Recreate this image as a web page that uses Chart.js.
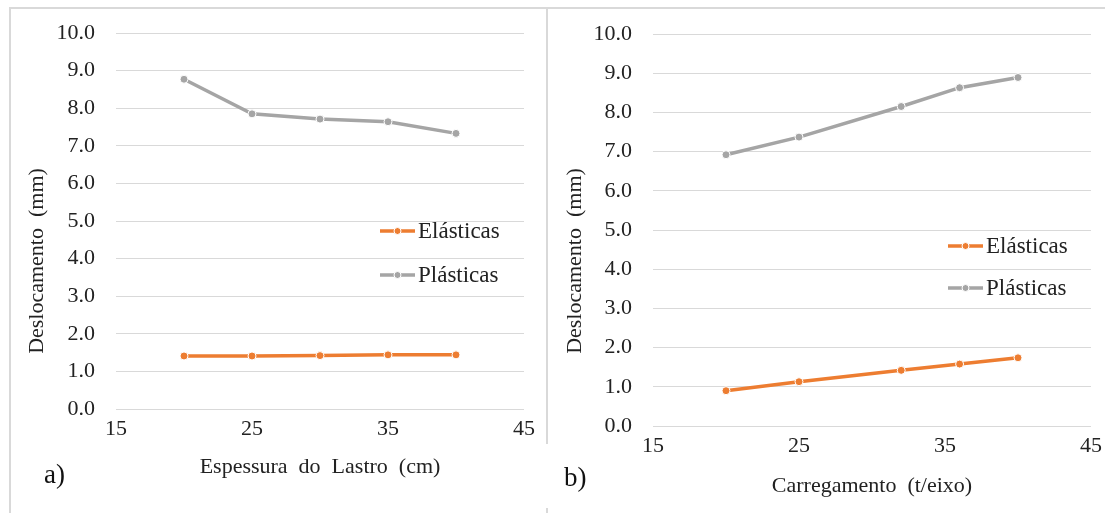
<!DOCTYPE html>
<html>
<head>
<meta charset="utf-8">
<script src="https://cdn.jsdelivr.net/npm/chart.js@4.4.1/dist/chart.umd.min.js"></script>
<style>
  body { margin: 0; background: #fff; width: 1105px; height: 513px; overflow: hidden; position: relative; }
  .box { position: absolute; }
  .line { position: absolute; background: #d9d9d9; }
  .tag { position: absolute; font-family: "Liberation Serif", serif; font-size: 27px; color: #111; }
</style>
</head>
<body>
<div class="line" style="left:9px; top:7px; width:1096px; height:2px;"></div>
<div class="line" style="left:9px; top:7px; width:2px; height:506px;"></div>
<div class="line" style="left:546px; top:7px; width:2px; height:437px;"></div>
<div class="line" style="left:546px; top:508px; width:2px; height:5px;"></div>

<div class="box" style="left:11px; top:9px; width:535px; height:504px;"><canvas id="chartA"></canvas></div>
<div class="box" style="left:549px; top:9px; width:556px; height:504px;"><canvas id="chartB"></canvas></div>

<div class="tag" style="left:44px; top:459px;">a)</div>
<div class="tag" style="left:564px; top:462px;">b)</div>

<script>
// a) Espessura do Lastro
const espessura = [20, 25, 30, 35, 40];
const elasticasA = [1.41, 1.41, 1.42, 1.44, 1.44];
const plasticasA = [8.77, 7.85, 7.71, 7.64, 7.33];

// b) Carregamento
const carregamento = [20, 25, 32, 36, 40];
const elasticasB = [0.90, 1.13, 1.42, 1.58, 1.74];
const plasticasB = [6.92, 7.37, 8.15, 8.63, 8.89];

const xTicks = [15, 25, 35, 45];
const seriesNames = ['Elásticas', 'Plásticas'];
const seriesColors = ['#ED7D31', '#A5A5A5'];
const yTitle = 'Deslocamento  (mm)';

const fontFamily = '"Liberation Serif", "Times New Roman", serif';
const textColor = '#222';

// legend drawn inside the plot area
const innerLegend = {
    id: 'innerLegend',
    afterDraw(chart, args, opts) {
        const ctx = chart.ctx;
        const area = chart.chartArea;
        const x0 = area.left + opts.x;
        ctx.save();
        ctx.font = '23px ' + fontFamily;
        ctx.textBaseline = 'middle';
        chart.data.datasets.forEach((ds, i) => {
            const y = area.top + opts.y + i * opts.gap;
            ctx.strokeStyle = ds.borderColor;
            ctx.lineWidth = 3.5;
            ctx.beginPath();
            ctx.moveTo(x0, y);
            ctx.lineTo(x0 + opts.len, y);
            ctx.stroke();
            ctx.fillStyle = ds.borderColor;
            ctx.beginPath();
            ctx.arc(x0 + opts.len / 2, y, 3.5, 0, Math.PI * 2);
            ctx.fill();
            ctx.strokeStyle = '#fff';
            ctx.lineWidth = 1;
            ctx.stroke();
            ctx.fillStyle = textColor;
            ctx.fillText(ds.label, x0 + opts.len + 3, y + 1);
        });
        ctx.restore();
    }
};

// vertical axis title, sits a bit below the middle like the original
const sideTitle = {
    id: 'sideTitle',
    afterDraw(chart, args, opts) {
        const ctx = chart.ctx;
        ctx.save();
        ctx.translate(opts.x, opts.y);
        ctx.rotate(-Math.PI / 2);
        ctx.font = '22px ' + fontFamily;
        ctx.fillStyle = textColor;
        ctx.textAlign = 'center';
        ctx.textBaseline = 'middle';
        ctx.fillText(opts.text, 0, 0);
        ctx.restore();
    }
};

function toPoints(xs, ys) {
    return xs.map((x, i) => ({ x: x, y: ys[i] }));
}

function makeChart(id, xs, elas, plas, xTitle, layout, legendPos, titlePos) {
    const datasets = [elas, plas].map((vals, i) => ({
        label: seriesNames[i],
        data: toPoints(xs, vals),
        borderColor: seriesColors[i],
        backgroundColor: seriesColors[i],
        pointBackgroundColor: seriesColors[i],
        pointBorderColor: '#fff',
        pointBorderWidth: 1,
        pointRadius: 4,
        borderWidth: 3.5,
        showLine: true,
        tension: 0
    }));

    return new Chart(document.getElementById(id), {
        type: 'scatter',
        data: { datasets: datasets },
        options: {
            responsive: true,
            maintainAspectRatio: false,
            animation: false,
            layout: { padding: { top: layout.top, right: layout.right, left: 0, bottom: 0 } },
            plugins: {
                legend: { display: false },
                tooltip: { enabled: false },
                innerLegend: legendPos,
                sideTitle: Object.assign({ text: yTitle }, titlePos)
            },
            scales: {
                x: {
                    type: 'linear',
                    min: 15,
                    max: 45,
                    afterBuildTicks: scale => { scale.ticks = xTicks.map(v => ({ value: v })); },
                    afterFit: scale => {
                        scale.height = layout.xHeight;
                        scale.paddingLeft = 0;
                        scale.paddingRight = 0;
                    },
                    grid: { display: false, drawTicks: false },
                    border: { display: false },
                    ticks: { padding: 7, color: textColor, font: { family: fontFamily, size: 22 } },
                    title: {
                        display: true,
                        text: xTitle,
                        color: textColor,
                        font: { family: fontFamily, size: 22 },
                        padding: { top: 0, bottom: layout.xTitlePad }
                    }
                },
                y: {
                    min: 0,
                    max: 10,
                    afterFit: scale => {
                        scale.width = layout.yWidth;
                        scale.paddingTop = 0;
                        scale.paddingBottom = 0;
                    },
                    grid: { color: '#d9d9d9', lineWidth: 1, drawTicks: false },
                    border: { display: false },
                    ticks: {
                        stepSize: 1,
                        padding: 21,
                        color: textColor,
                        font: { family: fontFamily, size: 22 },
                        callback: v => v.toFixed(1)
                    }
                }
            }
        },
        plugins: [innerLegend, sideTitle]
    });
}

makeChart('chartA', espessura, elasticasA, plasticasA, 'Espessura  do  Lastro  (cm)',
    { top: 24, right: 22, yWidth: 105, xHeight: 104, xTitlePad: 33 },
    { x: 264, y: 198, gap: 44, len: 35 },
    { x: 26, y: 252 });

makeChart('chartB', carregamento, elasticasB, plasticasB, 'Carregamento  (t/eixo)',
    { top: 25, right: 14, yWidth: 104, xHeight: 87, xTitlePad: 14 },
    { x: 295, y: 212, gap: 42, len: 35 },
    { x: 26, y: 252 });
</script>
</body>
</html>
